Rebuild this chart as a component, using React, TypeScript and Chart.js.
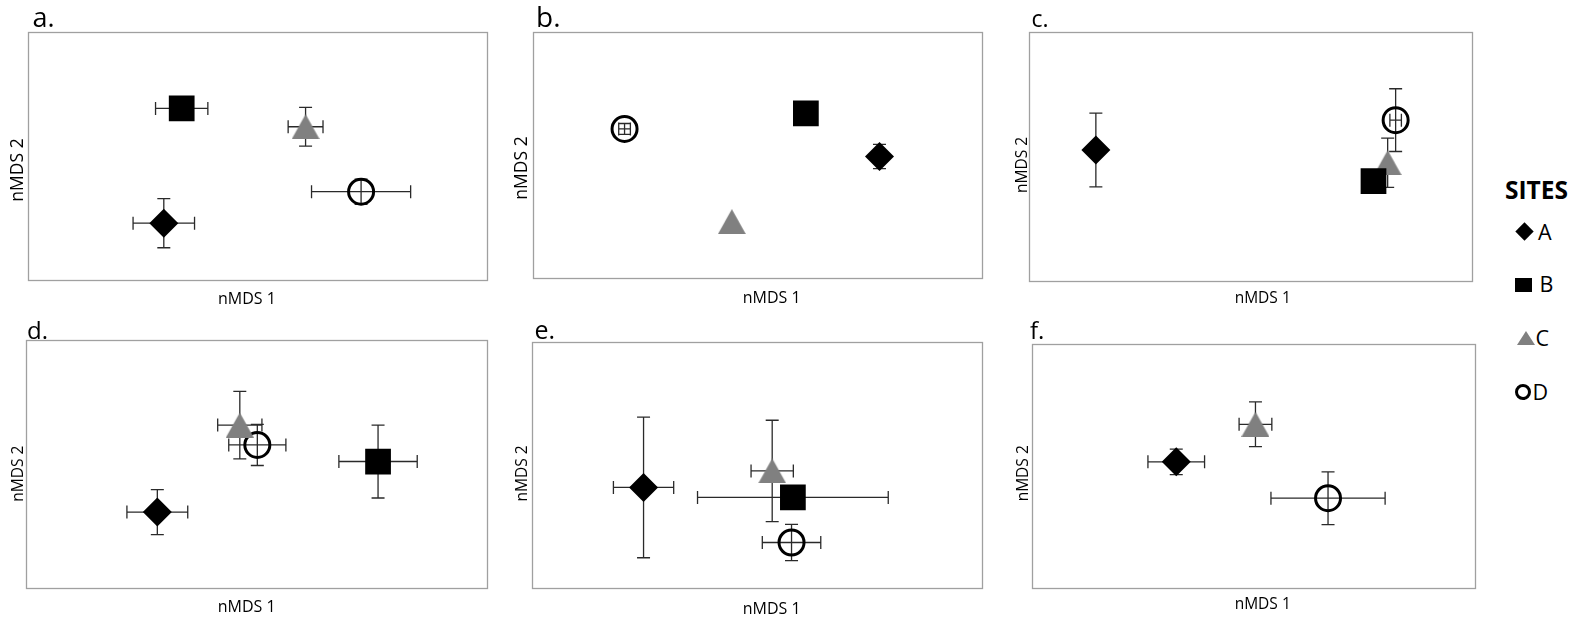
import React, { useEffect, useRef } from 'react';
import { Chart, registerables } from 'chart.js';

Chart.register(...registerables);

// ---------- DATA (nMDS positions in % of axis range; panels a..f) ----------
const PANELS = ['a.', 'b.', 'c.', 'd.', 'e.', 'f.'];
const SITES = ['A', 'B', 'C', 'D'];
const X_TITLE = 'nMDS 1';
const Y_TITLE = 'nMDS 2';

// site A (diamond)
const siteA_x = [29.6, 77.2, 15.1, 28.5, 24.8, 32.6];
const siteA_y = [22.9, 49.4, 52.6, 30.6, 40.9, 51.7];
const siteA_xErr = [6.7, 0, 0, 6.6, 6.7, 6.4];
const siteA_yErr = [9.9, 4.9, 14.8, 9.1, 28.6, 5.2];
// site B (square)
const siteB_x = [33.5, 60.8, 77.8, 76.4, 58.0, null];
const siteB_y = [69.2, 66.9, 40.1, 51.0, 36.8, null];
const siteB_xErr = [5.7, 0, 0, 8.5, 21.2, null];
const siteB_yErr = [0, 0, 0, 14.7, 0, null];
// site C (triangle)
const siteC_x = [60.5, 44.3, 81.0, 46.4, 53.4, 50.5];
const siteC_y = [61.8, 22.9, 47.5, 65.7, 47.6, 67.1];
const siteC_xErr = [3.8, 0, 0, 4.8, 4.7, 3.7];
const siteC_yErr = [7.8, 0, 9.9, 13.6, 20.6, 9.2];
// site D (open circle)
const siteD_x = [72.6, 20.4, 82.8, 50.2, 57.7, 66.9];
const siteD_y = [35.6, 60.6, 64.6, 57.7, 18.5, 36.8];
const siteD_xErr = [10.8, 1.3, 1.3, 6.2, 6.5, 12.9];
const siteD_yErr = [5.1, 2.2, 12.6, 8.3, 7.4, 10.8];

const SITE_X = [siteA_x, siteB_x, siteC_x, siteD_x];
const SITE_Y = [siteA_y, siteB_y, siteC_y, siteD_y];
const SITE_XERR = [siteA_xErr, siteB_xErr, siteC_xErr, siteD_xErr];
const SITE_YERR = [siteA_yErr, siteB_yErr, siteC_yErr, siteD_yErr];

// ---------- LAYOUT / STYLE ----------
const FONT = '"Open Sans", "Noto Sans", sans-serif';
const FRAME_COLOR = '#a0a0a0';
const ERR_COLOR = '#2a2a2a';
const CAP = 6.5;

type Lay = {
  cell: number[];
  box: number[];
  label: { x: number; y: number; size: number };
  xTitle: { x: number; y: number; size: number };
  yTitle: { x: number; y: number; size: number };
};

const LAYOUT: Lay[] = [
  { cell: [0, 0, 505, 312], box: [28, 32, 493, 280], label: { x: 32.5, y: 27.3, size: 27 }, xTitle: { x: 247, y: 304, size: 16 }, yTitle: { x: 23.3, y: 170, size: 17.5 } },
  { cell: [505, 0, 495, 312], box: [533, 32, 991, 278], label: { x: 536, y: 27.3, size: 28 }, xTitle: { x: 771.7, y: 303, size: 16 }, yTitle: { x: 527.3, y: 168, size: 17.5 } },
  { cell: [1000, 0, 490, 312], box: [1029, 32, 1477, 281], label: { x: 1031.5, y: 27.3, size: 23 }, xTitle: { x: 1262.7, y: 303, size: 15.5 }, yTitle: { x: 1027.3, y: 165, size: 15.5 } },
  { cell: [0, 312, 505, 312], box: [26, 340, 488, 588], label: { x: 27, y: 338.7, size: 24 }, xTitle: { x: 246.7, y: 612, size: 16 }, yTitle: { x: 22.7, y: 473.7, size: 15.5 } },
  { cell: [505, 312, 495, 312], box: [532, 342, 992, 588], label: { x: 534.5, y: 338.5, size: 25 }, xTitle: { x: 771.7, y: 613.5, size: 16 }, yTitle: { x: 527.3, y: 473.5, size: 15.5 } },
  { cell: [1000, 312, 490, 312], box: [1032, 344, 1477, 588], label: { x: 1030, y: 338.7, size: 24 }, xTitle: { x: 1262.7, y: 608.5, size: 15.5 }, yTitle: { x: 1028.3, y: 473.3, size: 15.5 } },
];

function makeTriangle(): HTMLCanvasElement {
  const c = document.createElement('canvas');
  c.width = 28;
  c.height = 25;
  const g = c.getContext('2d')!;
  g.fillStyle = '#808080';
  g.beginPath();
  g.moveTo(14, 0);
  g.lineTo(28, 25);
  g.lineTo(0, 25);
  g.closePath();
  g.fill();
  return c;
}

function siteStyle(si: number, tri: HTMLCanvasElement) {
  switch (si) {
    case 0:
      return { pointStyle: 'rectRot', pointRadius: 14.5, pointBackgroundColor: '#000', pointBorderWidth: 0 };
    case 1:
      return { pointStyle: 'rect', pointRadius: 18.2, pointBackgroundColor: '#000', pointBorderWidth: 0 };
    case 2:
      return { pointStyle: tri, pointRadius: 14, pointBackgroundColor: '#808080', pointBorderWidth: 0 };
    default:
      return { pointStyle: 'circle', pointRadius: 12.5, pointBackgroundColor: 'rgba(0,0,0,0)', pointBorderColor: '#000', pointBorderWidth: 3 };
  }
}

function decoPlugin(lay: Lay, label: string) {
  const [cl, ct] = lay.cell;
  return {
    id: 'deco',
    beforeDatasetsDraw(chart: any) {
      const { ctx, chartArea: a, scales } = chart;
      const xs = scales.x;
      const ys = scales.y;
      ctx.save();
      ctx.strokeStyle = FRAME_COLOR;
      ctx.lineWidth = 1.3;
      ctx.strokeRect(Math.round(a.left) + 0.5, Math.round(a.top) + 0.5, Math.round(a.right - a.left), Math.round(a.bottom - a.top));
      ctx.strokeStyle = ERR_COLOR;
      ctx.lineWidth = 1.3;
      chart.data.datasets.forEach((ds: any) => {
        ds.data.forEach((p: any, i: number) => {
          const px = xs.getPixelForValue(p.x);
          const py = ys.getPixelForValue(p.y);
          const xe = ds.xErr[i];
          const ye = ds.yErr[i];
          ctx.beginPath();
          if (xe > 0) {
            const l = xs.getPixelForValue(p.x - xe);
            const r = xs.getPixelForValue(p.x + xe);
            ctx.moveTo(l, py); ctx.lineTo(r, py);
            ctx.moveTo(l, py - CAP); ctx.lineTo(l, py + CAP);
            ctx.moveTo(r, py - CAP); ctx.lineTo(r, py + CAP);
          }
          if (ye > 0) {
            const t = ys.getPixelForValue(p.y + ye);
            const b = ys.getPixelForValue(p.y - ye);
            ctx.moveTo(px, t); ctx.lineTo(px, b);
            ctx.moveTo(px - CAP, t); ctx.lineTo(px + CAP, t);
            ctx.moveTo(px - CAP, b); ctx.lineTo(px + CAP, b);
          }
          ctx.stroke();
        });
      });
      ctx.restore();
    },
    afterDraw(chart: any) {
      const { ctx } = chart;
      ctx.save();
      ctx.fillStyle = '#000';
      ctx.textBaseline = 'alphabetic';
      // panel label
      ctx.textAlign = 'left';
      ctx.font = `${lay.label.size}px ${FONT}`;
      ctx.fillText(label, lay.label.x - cl, lay.label.y - ct);
      // x title
      ctx.textAlign = 'center';
      ctx.font = `${lay.xTitle.size}px ${FONT}`;
      ctx.fillText(X_TITLE, lay.xTitle.x - cl, lay.xTitle.y - ct);
      // y title
      ctx.font = `${lay.yTitle.size}px ${FONT}`;
      ctx.translate(lay.yTitle.x - cl, lay.yTitle.y - ct);
      ctx.rotate(-Math.PI / 2);
      ctx.fillText(Y_TITLE, 0, 0);
      ctx.restore();
    },
  };
}

function Panel({ idx }: { idx: number }) {
  const ref = useRef<HTMLCanvasElement>(null);
  const lay = LAYOUT[idx];
  const [cl, ct, cw, ch] = lay.cell;
  useEffect(() => {
    const [L, T, R, B] = lay.box;
    const tri = makeTriangle();
    const datasets: any[] = [];
    SITES.forEach((s, si) => {
      const x = SITE_X[si][idx];
      const y = SITE_Y[si][idx];
      if (x == null || y == null) return;
      datasets.push({
        label: s,
        data: [{ x, y }],
        xErr: [SITE_XERR[si][idx] ?? 0],
        yErr: [SITE_YERR[si][idx] ?? 0],
        ...siteStyle(si, tri),
      });
    });
    const chart = new Chart(ref.current as HTMLCanvasElement, {
      type: 'scatter',
      data: { datasets },
      options: {
        animation: false,
        responsive: false,
        events: [],
        layout: { padding: { left: L - cl, top: T - ct, right: cl + cw - R, bottom: ct + ch - B } },
        scales: {
          x: { type: 'linear', min: 0, max: 100, display: false },
          y: { type: 'linear', min: 0, max: 100, display: false },
        },
        plugins: { legend: { display: false }, tooltip: { enabled: false } },
      } as any,
      plugins: [decoPlugin(lay, PANELS[idx]) as any],
    });
    return () => chart.destroy();
  }, [idx]);
  return (
    <canvas
      ref={ref}
      width={cw}
      height={ch}
      style={{ position: 'absolute', left: cl, top: ct, width: cw, height: ch }}
    />
  );
}

function Txt({ x, base, size, bold, children }: { x: number; base: number; size: number; bold?: boolean; children: any }) {
  return (
    <div
      style={{
        position: 'absolute',
        left: x,
        top: base - 1.069 * size,
        fontFamily: FONT,
        fontSize: size,
        fontWeight: bold ? 700 : 400,
        lineHeight: 'normal',
        whiteSpace: 'nowrap',
        color: '#000',
      }}
    >
      {children}
    </div>
  );
}

function Legend() {
  return (
    <>
      <Txt x={1505} base={199.5} size={24.5} bold>SITES</Txt>
      <div style={{ position: 'absolute', left: 1524.7 - 6.5, top: 231.7 - 6.5, width: 13, height: 13, background: '#000', transform: 'rotate(45deg)' }} />
      <Txt x={1538} base={239.5} size={21.5}>{SITES[0]}</Txt>
      <div style={{ position: 'absolute', left: 1515, top: 278, width: 16.5, height: 14, background: '#000' }} />
      <Txt x={1539.5} base={292} size={21.5}>{SITES[1]}</Txt>
      <div style={{ position: 'absolute', left: 1516.5, top: 331, width: 0, height: 0, borderLeft: '9.5px solid transparent', borderRight: '9.5px solid transparent', borderBottom: '14.5px solid #808080' }} />
      <Txt x={1535.5} base={345.5} size={21.5}>{SITES[2]}</Txt>
      <div style={{ position: 'absolute', left: 1514.5, top: 383.5, width: 16.5, height: 16.5, boxSizing: 'border-box', border: '3px solid #000', borderRadius: '50%' }} />
      <Txt x={1532.5} base={399.5} size={21.5}>{SITES[3]}</Txt>
    </>
  );
}

export default function App() {
  return (
    <div style={{ position: 'absolute', left: 0, top: 0, width: 1578, height: 624, background: '#fff', overflow: 'hidden' }}>
      {PANELS.map((_, i) => (
        <Panel key={i} idx={i} />
      ))}
      <Legend />
    </div>
  );
}
